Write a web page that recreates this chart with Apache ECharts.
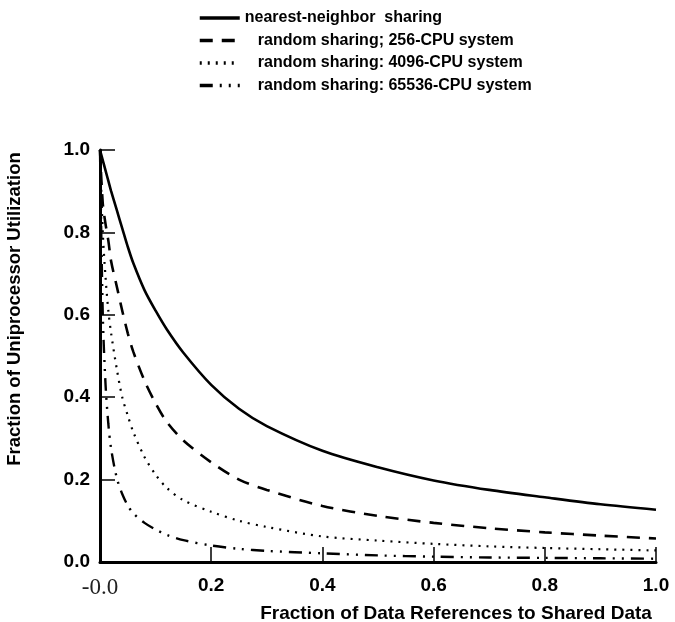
<!DOCTYPE html>
<html>
<head>
<meta charset="utf-8">
<script src="https://cdn.jsdelivr.net/npm/echarts@6/dist/echarts.min.js"></script>
<style>html,body{margin:0;padding:0;background:#fff;}#c{width:675px;height:622px;}</style>
</head>
<body>
<div id="c"></div>
<script>
var xs = [0, 0.005, 0.01, 0.015, 0.02, 0.03, 0.04, 0.05, 0.06, 0.08, 0.1, 0.12, 0.15, 0.2, 0.25, 0.3, 0.4, 0.5, 0.6, 0.7, 0.8, 0.9, 1.0];
var nearest = [1.0, 0.975, 0.95, 0.925, 0.9, 0.855, 0.81, 0.765, 0.725, 0.66, 0.61, 0.565, 0.508, 0.43, 0.372, 0.33, 0.27, 0.23, 0.198, 0.175, 0.157, 0.14, 0.127];
var rand256 = [1.0, 0.87, 0.82, 0.78, 0.73, 0.67, 0.61, 0.555, 0.51, 0.44, 0.385, 0.34, 0.295, 0.242, 0.2, 0.175, 0.136, 0.112, 0.095, 0.082, 0.072, 0.064, 0.057];
var rand4096 = [1.0, 0.8, 0.69, 0.61, 0.555, 0.47, 0.40, 0.355, 0.315, 0.255, 0.212, 0.18, 0.15, 0.122, 0.1, 0.085, 0.062, 0.052, 0.044, 0.038, 0.034, 0.031, 0.028];
var rand65536 = [1.0, 0.6, 0.43, 0.335, 0.275, 0.205, 0.165, 0.137, 0.118, 0.095, 0.079, 0.066, 0.053, 0.04, 0.032, 0.027, 0.021, 0.016, 0.013, 0.011, 0.01, 0.009, 0.008];
var seriesNames = ['nearest-neighbor  sharing', 'random sharing; 256-CPU system', 'random sharing: 4096-CPU system', 'random sharing: 65536-CPU system'];
var xTicks = [0, 0.2, 0.4, 0.6, 0.8, 1.0];
var yTicks = [0, 0.2, 0.4, 0.6, 0.8, 1.0];

function pairs(ys) { return xs.map(function (x, i) { return [x, ys[i]]; }); }

var sans = 'Liberation Sans, Arial, Helvetica, sans-serif';
var chart = echarts.init(document.getElementById('c'), null, {renderer: 'canvas'});
var styles = [
  {type: 'solid', width: 2.6},
  {type: [13, 9], width: 2.6},
  {type: [2, 6], width: 2.2},
  {type: [13, 7, 2, 7, 2, 7], width: 2.4}
];
var datas = [nearest, rand256, rand4096, rand65536];
var series = datas.map(function (d, i) {
  return {
    name: seriesNames[i],
    type: 'line',
    data: pairs(d),
    smooth: 0.3,
    symbol: 'none',
    lineStyle: {color: '#000', width: styles[i].width, type: styles[i].type},
    itemStyle: {color: '#000'}
  };
});
chart.setOption({
  backgroundColor: '#fff',
  animation: false,
  legend: {
    orient: 'vertical',
    left: 193,
    top: 5,
    itemGap: 6.5,
    itemWidth: 40,
    itemHeight: 17,
    data: seriesNames,
    itemStyle: {opacity: 0},
    lineStyle: {width: 3.5},
    formatter: function (n) { return n === seriesNames[0] ? n : '{pad|}' + n; },
    textStyle: {
      fontFamily: sans, fontWeight: 'bold', fontSize: 16, color: '#000',
      rich: {pad: {width: 13}}
    }
  },
  grid: {left: 100, right: 19, top: 150, bottom: 60, outerBoundsMode: 'none', containLabel: false},
  xAxis: {
    type: 'value', min: 0, max: 1, interval: 0.2,
    splitLine: {show: false},
    axisLine: {show: true, onZero: false, lineStyle: {color: '#000', width: 3}},
    axisTick: {show: true, inside: true, length: 15, lineStyle: {color: '#000', width: 1.5}},
    axisLabel: {
      margin: 14,
      formatter: function (v) {
        if (Math.abs(v) < 1e-9) return '{serif|-0.0}';
        return '{b|' + v.toFixed(1) + '}';
      },
      rich: {
        serif: {fontFamily: 'Liberation Serif, Times New Roman, serif', fontSize: 23, color: '#222'},
        b: {fontFamily: sans, fontWeight: 'bold', fontSize: 19, color: '#000'}
      }
    },
    name: 'Fraction of Data References to Shared Data',
    nameLocation: 'middle',
    nameGap: 34,
    nameTextStyle: {fontFamily: sans, fontWeight: 'bold', fontSize: 19, color: '#000', padding: [0, 0, 0, 156]}
  },
  yAxis: {
    type: 'value', min: 0, max: 1, interval: 0.2,
    splitLine: {show: false},
    axisLine: {show: true, lineStyle: {color: '#000', width: 3}},
    axisTick: {show: true, inside: true, length: 15, lineStyle: {color: '#000', width: 1.5}},
    axisLabel: {
      margin: 10,
      formatter: function (v) { return v.toFixed(1); },
      fontFamily: sans, fontWeight: 'bold', fontSize: 19, color: '#000'
    },
    name: 'Fraction of Uniprocessor Utilization',
    nameLocation: 'middle',
    nameRotate: 90,
    nameGap: 76,
    nameTextStyle: {fontFamily: sans, fontWeight: 'bold', fontSize: 18.5, color: '#000', padding: [0, 0, 0, 94]}
  },
  series: series
});
</script>
</body>
</html>
